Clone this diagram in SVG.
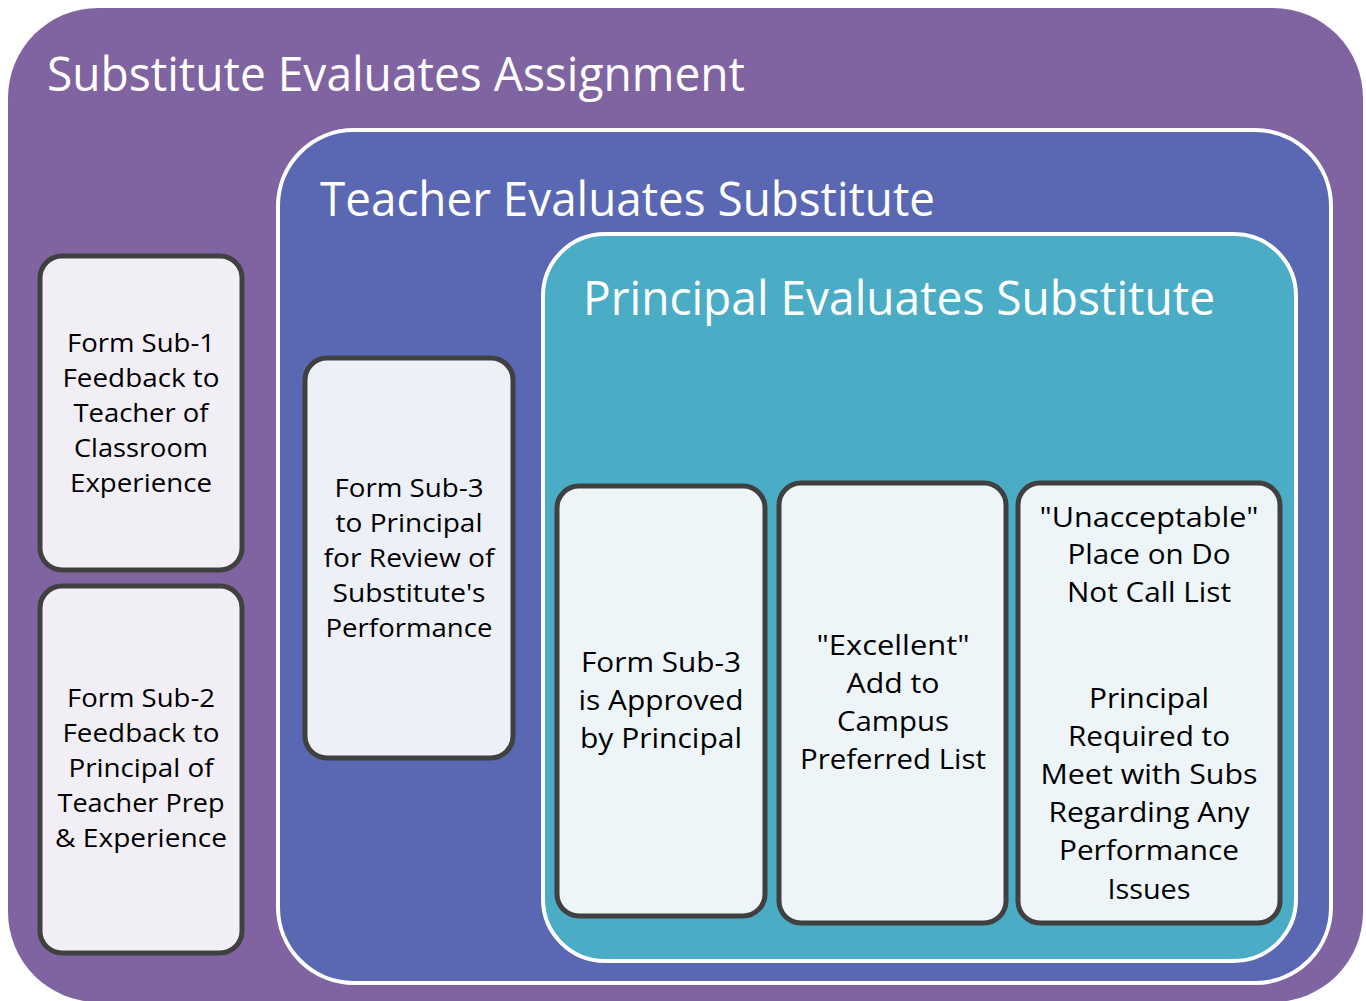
<svg xmlns="http://www.w3.org/2000/svg" width="1366" height="1001" viewBox="0 0 1366 1001">
<style>
.title{font-family:"Open Sans","Noto Sans",sans-serif;font-size:48px;fill:#ffffff}
.t{font-family:"Open Sans","Noto Sans",sans-serif;font-size:26px;fill:#000000;text-anchor:middle}
.tb{font-family:"Open Sans","Noto Sans",sans-serif;font-size:28px;fill:#000000;text-anchor:middle}
.box{stroke:#404040;stroke-width:5}
</style>
<rect width="1366" height="1001" fill="#ffffff"/>
<g id="outer">
<rect x="8" y="8" width="1355" height="994" rx="90" fill="#8064A2"/>
<text class="title" x="47" y="91" textLength="698" lengthAdjust="spacingAndGlyphs">Substitute Evaluates Assignment</text>
</g>
<g id="teacher">
<rect x="278" y="130" width="1053" height="853" rx="76" fill="#5A68B4" stroke="#ffffff" stroke-width="4"/>
<text class="title" x="320" y="216" textLength="615" lengthAdjust="spacingAndGlyphs">Teacher Evaluates Substitute</text>
</g>
<g id="principal">
<rect x="543" y="234" width="753" height="727" rx="62" fill="#4BACC6" stroke="#ffffff" stroke-width="4"/>
<text class="title" x="583" y="315" textLength="632" lengthAdjust="spacingAndGlyphs">Principal Evaluates Substitute</text>
</g>
<g id="sub1">
<rect class="box" x="40" y="256" width="202" height="314" rx="22" fill="#F1EFF5"/>
<text class="t" x="141" y="352" textLength="148" lengthAdjust="spacingAndGlyphs">Form Sub-1</text>
<text class="t" x="141" y="387" textLength="157" lengthAdjust="spacingAndGlyphs">Feedback to</text>
<text class="t" x="141" y="422" textLength="135" lengthAdjust="spacingAndGlyphs">Teacher of</text>
<text class="t" x="141" y="457" textLength="134" lengthAdjust="spacingAndGlyphs">Classroom</text>
<text class="t" x="141" y="492" textLength="142" lengthAdjust="spacingAndGlyphs">Experience</text>
</g>
<g id="sub2">
<rect class="box" x="40" y="586" width="202" height="367" rx="22" fill="#F1EFF5"/>
<text class="t" x="141" y="707" textLength="148" lengthAdjust="spacingAndGlyphs">Form Sub-2</text>
<text class="t" x="141" y="742" textLength="157" lengthAdjust="spacingAndGlyphs">Feedback to</text>
<text class="t" x="141" y="777" textLength="145" lengthAdjust="spacingAndGlyphs">Principal of</text>
<text class="t" x="141" y="812" textLength="167" lengthAdjust="spacingAndGlyphs">Teacher Prep</text>
<text class="t" x="141" y="847" textLength="172" lengthAdjust="spacingAndGlyphs">&amp; Experience</text>
</g>
<g id="sub3">
<rect class="box" x="305" y="358" width="208" height="400" rx="22" fill="#EEF0F8"/>
<text class="t" x="409" y="497" textLength="149" lengthAdjust="spacingAndGlyphs">Form Sub-3</text>
<text class="t" x="409" y="532" textLength="147" lengthAdjust="spacingAndGlyphs">to Principal</text>
<text class="t" x="409" y="567" textLength="171" lengthAdjust="spacingAndGlyphs">for Review of</text>
<text class="t" x="409" y="602" textLength="153" lengthAdjust="spacingAndGlyphs">Substitute's</text>
<text class="t" x="409" y="637" textLength="167" lengthAdjust="spacingAndGlyphs">Performance</text>
</g>
<g id="approved">
<rect class="box" x="557" y="486" width="208" height="430" rx="22" fill="#EDF5F9"/>
<text class="tb" x="661" y="672" textLength="160" lengthAdjust="spacingAndGlyphs">Form Sub-3</text>
<text class="tb" x="661" y="710" textLength="165" lengthAdjust="spacingAndGlyphs">is Approved</text>
<text class="tb" x="661" y="748" textLength="162" lengthAdjust="spacingAndGlyphs">by Principal</text>
</g>
<g id="excellent">
<rect class="box" x="779" y="483" width="227" height="440" rx="22" fill="#EDF5F9"/>
<text class="tb" x="893" y="655" textLength="153" lengthAdjust="spacingAndGlyphs">"Excellent"</text>
<text class="tb" x="893" y="693" textLength="93" lengthAdjust="spacingAndGlyphs">Add to</text>
<text class="tb" x="893" y="731" textLength="112" lengthAdjust="spacingAndGlyphs">Campus</text>
<text class="tb" x="893" y="769" textLength="186" lengthAdjust="spacingAndGlyphs">Preferred List</text>
</g>
<g id="unacceptable">
<rect class="box" x="1018" y="483" width="262" height="440" rx="22" fill="#EDF5F9"/>
<text class="tb" x="1149" y="527" textLength="219" lengthAdjust="spacingAndGlyphs">"Unacceptable"</text>
<text class="tb" x="1149" y="564" textLength="163" lengthAdjust="spacingAndGlyphs">Place on Do</text>
<text class="tb" x="1149" y="602" textLength="164" lengthAdjust="spacingAndGlyphs">Not Call List</text>
<text class="tb" x="1149" y="708" textLength="120" lengthAdjust="spacingAndGlyphs">Principal</text>
<text class="tb" x="1149" y="746" textLength="162" lengthAdjust="spacingAndGlyphs">Required to</text>
<text class="tb" x="1149" y="784" textLength="217" lengthAdjust="spacingAndGlyphs">Meet with Subs</text>
<text class="tb" x="1149" y="822" textLength="201" lengthAdjust="spacingAndGlyphs">Regarding Any</text>
<text class="tb" x="1149" y="860" textLength="180" lengthAdjust="spacingAndGlyphs">Performance</text>
<text class="tb" x="1149" y="899" textLength="83" lengthAdjust="spacingAndGlyphs">Issues</text>
</g>
<g id="connectors"></g>
</svg>
